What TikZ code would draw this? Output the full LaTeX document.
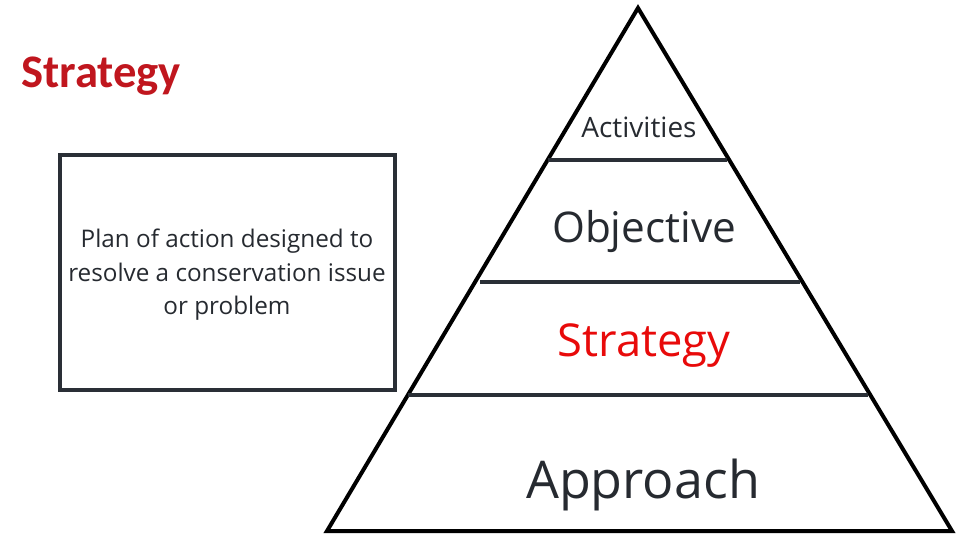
\documentclass[tikz,border=0pt]{standalone}
\usepackage{fontspec}
\setmainfont{Open Sans}
\newfontfamily\titlefont{Carlito}
\definecolor{titlered}{RGB}{192,22,30}
\definecolor{lvlred}{RGB}{232,10,10}
\definecolor{ink}{RGB}{38,42,48}
\definecolor{rulegray}{RGB}{42,47,54}

\begin{document}
\begin{tikzpicture}[x=0.75pt,y=-0.75pt,
    level/.style={text=ink,inner sep=0pt,anchor=base},
    divider/.style={draw=rulegray,line width=2.6pt}]
    \useasboundingbox (0,0) rectangle (960,540);

    \node[text=titlered,font=\titlefont\bfseries\fontsize{35}{40}\selectfont,
          anchor=base west,inner sep=0pt] (title) at (21,87) {Strategy};

    \node[draw=rulegray,line width=2.6pt,minimum width=251pt,minimum height=176pt] (plan) at (227.5,272.5) {};
    \node[align=center,text=ink,font=\fontsize{18.2}{25.2}\selectfont] (plantext) at (227,275)
          {Plan of action designed to\\resolve a conservation issue\\or problem};

    % pyramid
    \coordinate (top) at (638,8);
    \coordinate (bl) at (327,531);
    \coordinate (br) at (952,531);
    \draw[line width=3pt,line join=miter] (top) -- (bl) -- (br) -- cycle;

    \coordinate (d1l) at (548,160);
    \coordinate (d1r) at (727,160);
    \coordinate (d2l) at (480,282);
    \coordinate (d2r) at (800,282);
    \coordinate (d3l) at (408,395);
    \coordinate (d3r) at (868,395);
    \draw[divider] (d1l) -- (d1r);
    \draw[divider] (d2l) -- (d2r);
    \draw[divider] (d3l) -- (d3r);

    \node[level,font=\fontsize{21}{24}\selectfont] (act) at (639,137) {Activities};
    \node[level,font=\fontsize{31.7}{36}\selectfont] (obj) at (644,242) {Objective};
    \node[level,text=lvlred,font=\fontsize{34}{38}\selectfont] (strat) at (644,356) {Strategy};
    \node[level,font=\fontsize{39}{44}\selectfont] (appr) at (643,498) {Approach};
\end{tikzpicture}
\end{document}
